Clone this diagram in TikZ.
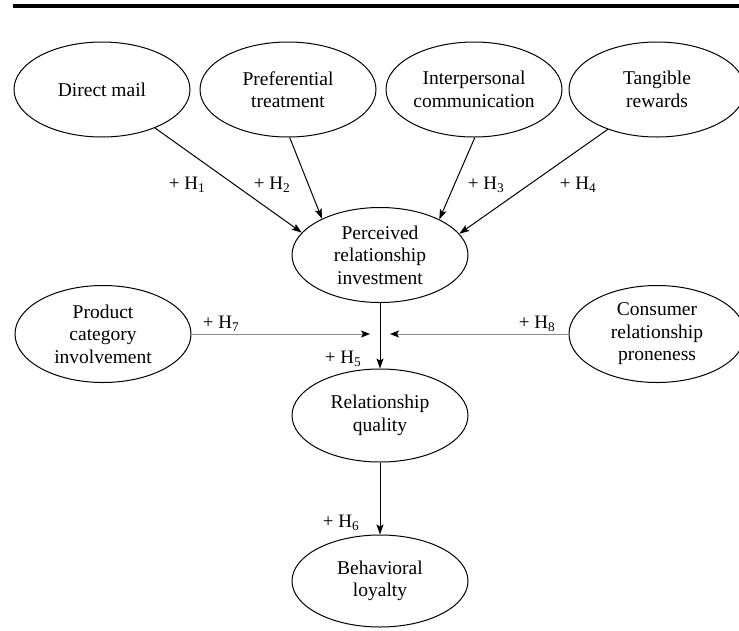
\documentclass[tikz,border=0pt]{standalone}
\usepackage{fontspec}
\setmainfont{Liberation Serif}
\usetikzlibrary{arrows.meta,shapes.geometric}
\begin{document}
\begin{tikzpicture}[x=1pt,y=-1pt,
  construct/.style={draw, ellipse, line width=1pt, minimum width=176pt,
    minimum height=95pt, inner sep=0pt, align=center,
    font=\fontsize{19.5}{22.5}\selectfont},
  link/.style={draw, line width=1pt,
    -{Stealth[length=10pt,width=7pt,inset=2pt]}},
  moderator/.style={draw=black!45, line width=0.8pt,
    -{Stealth[length=9pt,width=7pt,inset=2pt,color=black]}},
  hyp/.style={inner sep=0pt, font=\fontsize{19}{22}\selectfont}
]
\useasboundingbox (0,0) rectangle (739,630);
\clip (0,0) rectangle (739,630);

% heading rule
\draw[line width=4pt] (13,6) -- (739,6);

% antecedents
\node[construct] (dm) at (102,89.5) {Direct mail};
\node[construct] (pt) at (288,89.5) {Preferential\\treatment};
\node[construct] (ic) at (474,89.5) {Interpersonal\\communication};
\node[construct] (tr) at (657,89.5) {Tangible\\rewards};

% mediators and outcome
\node[construct] (pri) at (380,255) {Perceived\\relationship\\investment};
\node[construct, minimum height=93pt] (rq) at (380,415.5) {Relationship\\quality};
\node[construct, minimum height=92pt] (bl) at (380,581) {Behavioral\\loyalty};

% moderators
\node[construct, minimum height=97pt] (pci) at (103,334) {Product\\category\\involvement};
\node[construct, minimum height=97pt] (crp) at (657,334) {Consumer\\relationship\\proneness};

% ends of the moderating arrows
\coordinate (m7) at (370,334);
\coordinate (m8) at (390,334);

% hypothesised paths
\draw[link] (dm.-36.5) -- (pri.164);
\draw[link] (pt.-88) -- (pri.148.5);
\draw[link] (ic.-89) -- (pri.31);
\draw[link] (tr.-141) -- (pri.15);
\draw[link] (pri.south) -- (rq.north);
\draw[link] (rq.south) -- (bl.north);
\draw[moderator] (pci) -- (m7);
\draw[moderator] (crp) -- (m8);

% hypothesis labels
\node[hyp] (h1) at (187,185) {+ H\textsubscript{1}};
\node[hyp] (h2) at (272,185) {+ H\textsubscript{2}};
\node[hyp] (h3) at (486,185) {+ H\textsubscript{3}};
\node[hyp] (h4) at (578,185) {+ H\textsubscript{4}};
\node[hyp] (h7) at (221,324) {+ H\textsubscript{7}};
\node[hyp] (h8) at (537,324) {+ H\textsubscript{8}};
\node[hyp] (h5) at (343,359) {+ H\textsubscript{5}};
\node[hyp] (h6) at (341,523) {+ H\textsubscript{6}};
\end{tikzpicture}
\end{document}
